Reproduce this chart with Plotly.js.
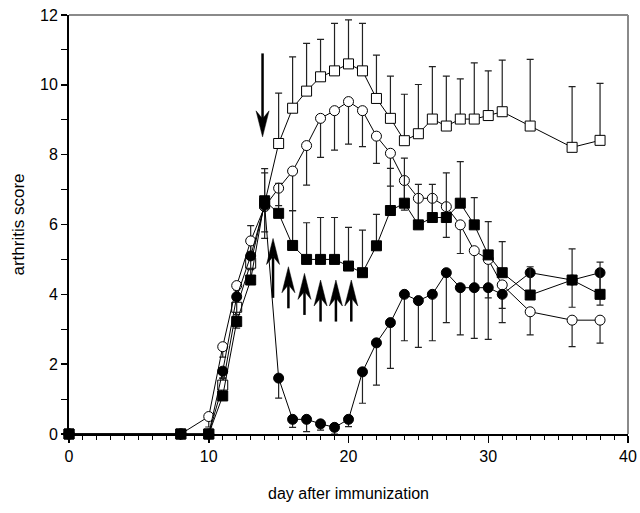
<!DOCTYPE html>
<html><head><meta charset="utf-8">
<script src="https://cdn.plot.ly/plotly-3.0.1.min.js"></script>
<style>html,body{margin:0;padding:0;background:#fff}#chart{width:640px;height:513px}</style>
</head><body><div id="chart"></div>
<script>
// ---- data ----
const days = [0,8,10,11,12,13,14,15,16,17,18,19,20,21,22,23,24,25,26,27,28,29,30,31,33,36,38];

const openSquare    = [0,0,0,1.4,3.63,4.89,6.6,8.32,9.33,9.82,10.23,10.4,10.6,10.4,9.61,9.04,8.4,8.6,9.02,8.82,9.02,9.02,9.12,9.23,8.82,8.21,8.41];
const openSquareErr = [0,0,0,0.2,0.5,1.08,1.0,1.44,1.47,1.37,1.07,1.36,1.26,1.36,1.24,1.21,1.33,1.41,1.5,1.43,1.15,1.61,1.28,1.48,1.91,1.74,1.63]; // upward

const openCircle    = [0,0,0.5,2.5,4.25,5.53,6.51,7.04,7.53,8.26,9.04,9.26,9.52,9.26,8.53,8.04,7.26,6.75,6.75,6.51,5.99,5.25,5.0,4.27,3.5,3.26,3.26];
const openCircleErr = [0,0,0.3,0.3,0.4,0.4,0.72,0.5,1.13,1.13,1.12,1.13,1.22,1.03,0.78,0.94,0.85,0.75,0.55,0.88,0.82,1.0,1.1,0.67,0.66,0.76,0.66]; // downward

const filledCircle    = [0,0,0,1.8,3.93,5.1,6.55,1.6,0.42,0.42,0.29,0.19,0.42,1.78,2.61,3.19,4.0,3.82,4.0,4.62,4.19,4.19,4.19,4.0,4.62,4.41,4.62];
const filledCircleErr = [0,0,0,0.2,0.9,0.38,0.95,0.57,0.23,0.35,0.18,0.19,0.21,0.9,1.21,1.31,1.33,1.34,1.33,1.43,1.35,1.45,1.48,0.81,0.6,0.78,0.93]; // downward

const filledSquare    = [0,0,0,1.09,3.22,4.41,6.68,6.32,5.4,5.0,5.0,5.0,4.81,4.62,5.39,6.4,6.61,5.99,6.2,6.2,6.61,5.99,5.13,4.62,3.98,4.41,4.0];
const filledSquareErr = [0,0,0,0.1,0.2,0.3,0.8,0.86,1.0,1.05,1.2,1.2,1.11,1.22,0.9,1.21,1.29,1.16,0.95,1.28,1.19,0.78,0.95,0.89,0.81,0.89,0.92]; // upward

const xTicks = [0,10,20,30,40];
const yTicks = [0,2,4,6,8,10,12];

// treatment arrows (day, tip value, tail value)
const downArrow = {day:13.85, tail:10.9, tip:8.51};
const upArrowDays  = [14.6,15.7,16.85,18.0,19.1,20.2];
const upArrowTips  = [5.6,4.79,4.6,4.41,4.41,4.41];
const upArrowTails = [3.9,3.6,3.41,3.22,3.22,3.22];

// ---- drawing ----
const FONT = '"Liberation Sans",Arial,sans-serif';
const zeros = days.map(()=>0);

function trace(y, err, up, symbol, fill){
  return {
    x: days, y: y, type:'scatter', mode:'lines+markers', cliponaxis:false,
    line:{color:'black', width:1},
    marker:{symbol:symbol, size:10, color:fill, line:{color:'black', width:1}},
    error_y:{type:'data', symmetric:false,
      array: up ? err : zeros, arrayminus: up ? zeros : err,
      color:'#222', thickness:1.2, width:3.5}
  };
}

const data = [
  trace(openSquare, openSquareErr, true, 'square', 'white'),
  trace(openCircle, openCircleErr, false, 'circle', 'white'),
  trace(filledCircle, filledCircleErr, false, 'circle', 'black'),
  trace(filledSquare, filledSquareErr, true, 'square', 'black')
];

// arrowhead sizes in px converted to data units
const W = 640, H = 513, M = {l:69, r:12, t:15, b:79};
const pxPerDay = (W - M.l - M.r) / 40;
const pxPerUnit = (H - M.t - M.b) / 12;
const hw = 6.5 / pxPerDay, hl = 26 / pxPerUnit, notch = 8 / pxPerUnit;

const shapes = [
  {type:'line', xref:'paper', yref:'paper', x0:0, x1:1, y0:1, y1:1, line:{color:'#8a8a8a', width:2}},
  {type:'line', xref:'paper', yref:'paper', x0:1, x1:1, y0:0, y1:1, line:{color:'#8a8a8a', width:2}}
];
function arrow(x, tail, tip){
  const dir = tip > tail ? 1 : -1;
  const base = tip - dir*hl, inner = tip - dir*(hl - notch);
  shapes.push({type:'line', xref:'x', yref:'y', x0:x, x1:x, y0:tail, y1:inner, line:{color:'black', width:2.5}});
  shapes.push({type:'path', xref:'x', yref:'y',
    path:`M ${x},${tip} L ${x+hw},${base} L ${x},${inner} L ${x-hw},${base} Z`,
    fillcolor:'black', line:{color:'black', width:0.5}});
}
arrow(downArrow.day, downArrow.tail, downArrow.tip);
upArrowDays.forEach((d,i)=>arrow(d, upArrowTails[i], upArrowTips[i]));

const layout = {
  width:W, height:H, margin:M, showlegend:false,
  paper_bgcolor:'white', plot_bgcolor:'white',
  font:{family:FONT, size:16, color:'black'},
  xaxis:{range:[0,40], tickvals:xTicks, ticks:'outside', ticklen:7, tickwidth:1.5, tickcolor:'black',
    showline:true, linecolor:'black', linewidth:2, zeroline:false, showgrid:false,
    minor:{dtick:1, ticks:'outside', ticklen:4, tickwidth:1, tickcolor:'black', showgrid:false},
    tickfont:{family:FONT, size:16, color:'black'},
    title:{text:'day after immunization', font:{family:FONT, size:16, color:'black'}, standoff:24}},
  yaxis:{range:[0,12], tickvals:yTicks, ticks:'outside', ticklen:6, tickwidth:1.5, tickcolor:'black',
    showline:true, linecolor:'black', linewidth:2, zeroline:false, showgrid:false,
    minor:{dtick:1, ticks:'outside', ticklen:6, tickwidth:1, tickcolor:'black', showgrid:false},
    tickfont:{family:FONT, size:16, color:'black'},
    title:{text:'arthritis score', font:{family:FONT, size:17, color:'black'}, standoff:11}},
  shapes:shapes
};

Plotly.newPlot('chart', data, layout, {staticPlot:true, displayModeBar:false});
</script></body></html>
